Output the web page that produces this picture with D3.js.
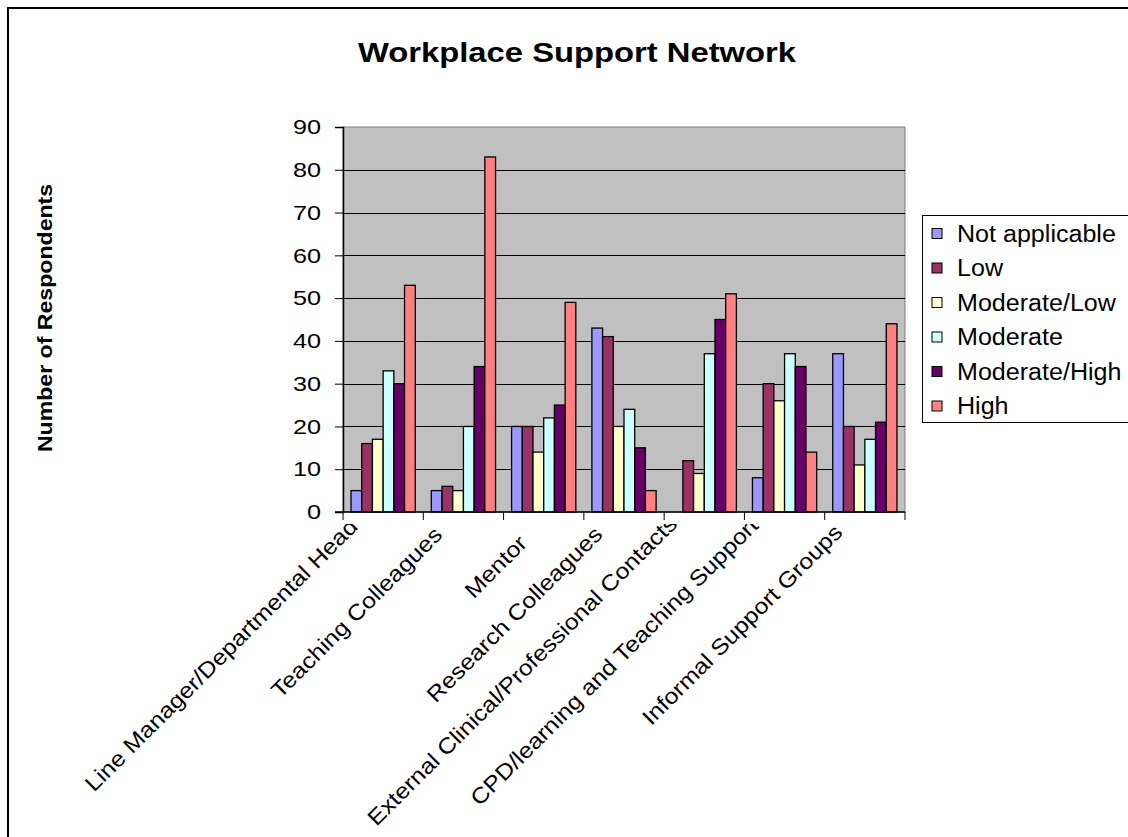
<!DOCTYPE html>
<html>
<head>
<meta charset="utf-8">
<script src="https://cdn.jsdelivr.net/npm/d3@7"></script>
<style>
  body { margin: 0; background: #fff; }
  svg { display: block; font-family: "Liberation Sans", Arial, sans-serif; }
</style>
</head>
<body>
<div id="chart"></div>
<script>
// categories along the x axis
const categories = [
  "Line Manager/Departmental Head",
  "Teaching Colleagues",
  "Mentor",
  "Research Colleagues",
  "External Clinical/Professional Contacts",
  "CPD/learning and Teaching Support",
  "Informal Support Groups"
];

// one series per support level
const seriesNames = ["Not applicable", "Low", "Moderate/Low", "Moderate", "Moderate/High", "High"];
const notApplicable = [5, 5, 20, 43, 0, 8, 37];
const low           = [16, 6, 20, 41, 12, 30, 20];
const moderateLow   = [17, 5, 14, 20, 9, 26, 11];
const moderate      = [33, 20, 22, 24, 37, 37, 17];
const moderateHigh  = [30, 34, 25, 15, 45, 34, 21];
const high          = [53, 83, 49, 5, 51, 14, 44];
const yTicks = [0, 10, 20, 30, 40, 50, 60, 70, 80, 90];

const seriesValues = [notApplicable, low, moderateLow, moderate, moderateHigh, high];
const colors = ["#9999FF", "#993366", "#FFFFCC", "#CCFFFF", "#660066", "#FF8080"];

const W = 1128, H = 837;
const plot = { left: 343, right: 905, top: 127, bottom: 512 };

// the original text is drawn a bit wider than Arial, so stretch it
function stretch(sel, k) {
  sel.each(function () {
    const len = this.getComputedTextLength();
    d3.select(this).attr("textLength", len * k).attr("lengthAdjust", "spacingAndGlyphs");
  });
}

const svg = d3.select("#chart").append("svg")
    .attr("width", W)
    .attr("height", H);

svg.append("rect").attr("width", W).attr("height", H).attr("fill", "#fff");

// outer chart border
svg.append("rect")
    .attr("x", 8).attr("y", 8)
    .attr("width", W + 20).attr("height", H + 20)
    .attr("fill", "none")
    .attr("stroke", "#000")
    .attr("stroke-width", 2);

// title
svg.append("text")
    .attr("x", 577).attr("y", 62)
    .attr("text-anchor", "middle")
    .style("font-weight", "bold")
    .style("font-size", "28px")
    .text("Workplace Support Network")
    .call(stretch, 1.17);

// scales
const x0 = d3.scaleBand()
    .domain(categories)
    .range([plot.left, plot.right]);

// gap width 150% like the default column chart
const x1 = d3.scaleBand()
    .domain(seriesNames)
    .range([0, x0.bandwidth()])
    .paddingOuter(0.75);

const y = d3.scaleLinear()
    .domain([0, 90])
    .range([plot.bottom, plot.top]);

// plot area
svg.append("rect")
    .attr("x", plot.left).attr("y", plot.top)
    .attr("width", plot.right - plot.left)
    .attr("height", plot.bottom - plot.top)
    .attr("fill", "#C0C0C0")
    .attr("stroke", "#808080")
    .attr("stroke-width", 1);

// gridlines
svg.append("g")
    .selectAll("line")
    .data(yTicks.filter(d => d > 0 && d < 90))
    .join("line")
    .attr("x1", plot.left).attr("x2", plot.right)
    .attr("y1", d => Math.round(y(d)) + 0.5)
    .attr("y2", d => Math.round(y(d)) + 0.5)
    .attr("stroke", "#000")
    .attr("stroke-width", 1);

// bars
const data = [];
categories.forEach((c, ci) => {
  seriesNames.forEach((s, si) => {
    data.push({ cat: c, series: s, value: seriesValues[si][ci], color: colors[si] });
  });
});

svg.append("g")
    .selectAll("rect")
    .data(data.filter(d => d.value > 0))
    .join("rect")
    .attr("x", d => x0(d.cat) + x1(d.series))
    .attr("y", d => y(d.value))
    .attr("width", x1.bandwidth())
    .attr("height", d => y(0) - y(d.value))
    .attr("fill", d => d.color)
    .attr("stroke", "#000")
    .attr("stroke-width", 1.3);

// y axis
const yAxis = svg.append("g")
    .attr("transform", `translate(${plot.left},0)`)
    .call(d3.axisLeft(y).tickValues(yTicks).tickSize(8).tickPadding(14));
yAxis.select(".domain").attr("stroke", "#000").attr("stroke-width", 1.5);
yAxis.selectAll(".tick line").attr("stroke", "#000");
yAxis.selectAll("text")
    .style("font-family", "Liberation Sans, Arial, sans-serif")
    .style("font-size", "21px")
    .attr("fill", "#000")
    .call(stretch, 1.2);

// x axis line and tick marks between categories
svg.append("line")
    .attr("x1", plot.left - 8).attr("x2", plot.right)
    .attr("y1", plot.bottom).attr("y2", plot.bottom)
    .attr("stroke", "#000").attr("stroke-width", 1.5);

const boundaries = categories.map(c => x0(c)).concat([plot.right]);
svg.append("g")
    .selectAll("line")
    .data(boundaries)
    .join("line")
    .attr("x1", d => d).attr("x2", d => d)
    .attr("y1", plot.bottom).attr("y2", plot.bottom + 8)
    .attr("stroke", "#000");

// category labels, rotated and clipped under the axis
svg.append("clipPath").attr("id", "labclip")
  .append("rect")
    .attr("x", 0).attr("y", 524)
    .attr("width", W).attr("height", H - 524);

const labels = svg.append("g")
    .attr("clip-path", "url(#labclip)")
    .selectAll("text")
    .data(categories)
    .join("text")
    .attr("text-anchor", "end")
    .style("font-size", "22px")
    .text(d => d)
    .call(stretch, 1.13);

// longer labels sit slightly higher and further left, as in the original
labels.attr("transform", function (d) {
  const len = +this.getAttribute("textLength");
  const cx = x0(d) + x0.bandwidth() / 2;
  return `translate(${cx - 13 - 0.03 * len},${plot.bottom + 37 - 0.056 * len}) rotate(-45)`;
});

// y axis title
svg.append("text")
    .attr("transform", "translate(52,318) rotate(-90)")
    .attr("text-anchor", "middle")
    .style("font-weight", "bold")
    .style("font-size", "21px")
    .text("Number of Respondents")
    .call(stretch, 1.1);

// legend
const legend = svg.append("g");
legend.append("rect")
    .attr("x", 922.5).attr("y", 215.5)
    .attr("width", 260).attr("height", 207)
    .attr("fill", "#fff")
    .attr("stroke", "#000")
    .attr("stroke-width", 1);

const item = legend.selectAll("g.item")
    .data(seriesNames)
    .join("g")
    .attr("class", "item")
    .attr("transform", (d, i) => `translate(0,${233.5 + i * 34.5})`);

item.append("rect")
    .attr("x", 932).attr("y", -5)
    .attr("width", 10).attr("height", 10)
    .attr("fill", (d, i) => colors[i])
    .attr("stroke", "#000");

item.append("text")
    .attr("x", 957).attr("y", 0)
    .attr("dominant-baseline", "central")
    .style("font-size", "23px")
    .text(d => d)
    .call(stretch, 1.09);
</script>
</body>
</html>
